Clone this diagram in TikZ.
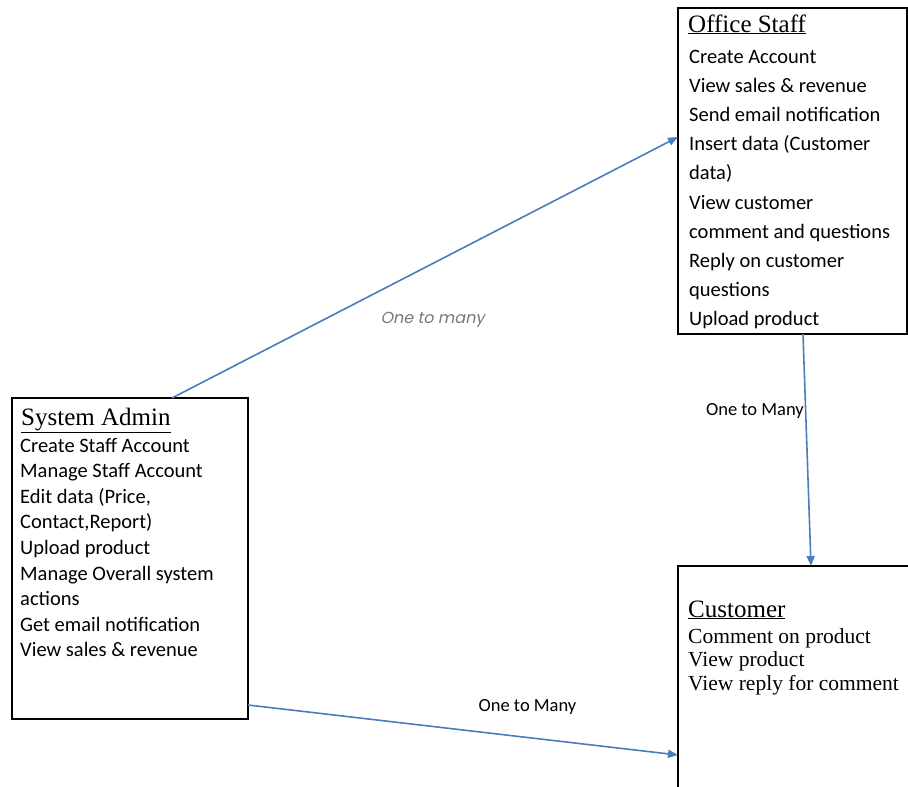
\documentclass[tikz,border=0pt]{standalone}
\usepackage{fontspec}
\setmainfont{Liberation Serif}
\newfontfamily\itemfont{Carlito}
\newfontfamily\gothfont[AutoFakeSlant=0.2]{Poppins}
\usepackage{xcolor}
\usetikzlibrary{arrows.meta,positioning,calc}

\definecolor{linkblue}{RGB}{74,126,187}
\definecolor{notegray}{RGB}{120,120,120}

\begin{document}
\begin{tikzpicture}[x=1pt, y=-1pt,
	box/.style={draw, line width=1.2pt, inner sep=0pt, outer sep=0pt, anchor=north west},
	heading/.style={anchor=base west, inner sep=0pt, font=\fontsize{25}{30}\selectfont},
	calib/.style={anchor=base west, inner sep=0pt, font=\itemfont\fontsize{20.5}{24}\selectfont},
	roman/.style={anchor=base west, inner sep=0pt, font=\fontsize{21.5}{26}\selectfont},
	link/.style={draw=linkblue, line width=1.6pt, -{Triangle[length=10pt,width=8pt]}},
	rel/.style={font=\itemfont\fontsize{18.5}{22}\selectfont, inner sep=1pt},
	relnote/.style={font=\gothfont\itshape\fontsize{16}{19}\selectfont, text=notegray, inner sep=1pt}]

	\useasboundingbox (0,0) rectangle (908,787);

	% boxes
	\node[box, minimum width=229pt, minimum height=326pt] (staff) at (678,8) {};
	\node[box, minimum width=236pt, minimum height=321pt] (admin) at (12,398) {};
	\node[box, minimum width=234pt, minimum height=240pt] (customer) at (678,566) {};

	% office staff
	\node[heading] (staff-title) at ($(staff.north west)+(10,24)$) {\underline{Office Staff}};
	\foreach \txt [count=\i] in {Create Account, View sales \& revenue, Send email notification,
		Insert data (Customer, data), View customer, comment and questions,
		Reply on customer, questions, Upload product} {
		\node[calib] (staff-\i) at ($(staff.north west)+(11,{55+(\i-1)*29.2})$) {\txt};
	};

	% system admin
	\node[heading] (admin-title) at ($(admin.north west)+(9,27)$) {\underline{System Admin}};
	\foreach \txt [count=\i] in {Create Staff Account, Manage Staff Account, {Edit data (Price,},
		{Contact,Report)}, Upload product, Manage Overall system, actions,
		Get email notification, View sales \& revenue} {
		\node[calib] (admin-\i) at ($(admin.north west)+(8,{54+(\i-1)*25.6})$) {\txt};
	};

	% customer
	\node[heading] (customer-title) at ($(customer.north west)+(10,51)$) {\underline{Customer}};
	\foreach \txt [count=\i] in {Comment on product, View product, View reply for comment} {
		\node[roman] (customer-\i) at ($(customer.north west)+(10,{77+(\i-1)*23.5})$) {\txt};
	};

	% relations
	\draw[link] ($(admin.north)+(42,0)$) -- node[relnote, pos=0.515, yshift=-56pt] (note-a) {One to many} ($(staff.west)+(0,-34)$);
	\draw[link] ($(staff.south)+(10.5,0)$) -- node[rel, pos=0.33, anchor=east] (note-b) {One to Many} ($(customer.north)+(16,0)$);
	\draw[link] ($(admin.south east)+(0,-14)$) -- node[rel, pos=0.65, yshift=31pt] (note-c) {One to Many} ($(customer.north west)+(0,189)$);
\end{tikzpicture}
\end{document}
